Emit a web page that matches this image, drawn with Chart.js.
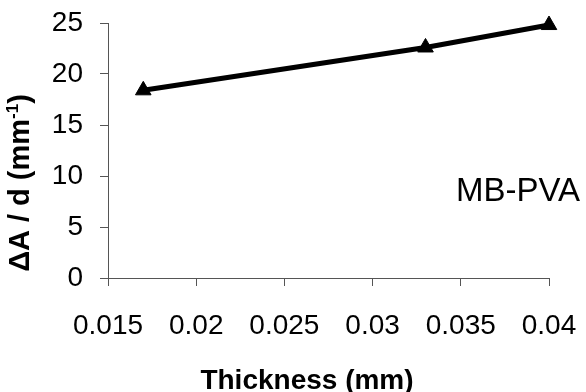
<!DOCTYPE html>
<html>
<head>
<meta charset="utf-8">
<script src="https://cdn.jsdelivr.net/npm/chart.js@4.4.0/dist/chart.umd.min.js"></script>
<style>
  html, body { margin: 0; padding: 0; background: #fff; }
  #wrap { width: 586px; height: 392px; }
</style>
</head>
<body>
<div id="wrap"><canvas id="c" width="586" height="392"></canvas></div>
<script>
// thickness (mm) vs absorbance change per unit thickness
const thickness = [0.017, 0.033, 0.04];
const dAperD = [18.4, 22.6, 24.8];
const xTicks = [0.015, 0.02, 0.025, 0.03, 0.035, 0.04];
const yTicks = [0, 5, 10, 15, 20, 25];
const sampleName = 'MB-PVA';
const xTitle = 'Thickness (mm)';

const FONT = '"Liberation Sans", Arial, Helvetica, sans-serif';
const AXIS = '#555';

// axis titles (with the superscript) and the sample label
const labelsPlugin = {
  id: 'labels',
  afterDraw(chart) {
    const ctx = chart.ctx;
    ctx.save();
    ctx.fillStyle = '#000';

    // x title
    ctx.font = 'bold 28px ' + FONT;
    ctx.textAlign = 'center';
    ctx.textBaseline = 'alphabetic';
    ctx.fillText(xTitle, 307, 389);

    // y title, rotated, "ΔA / d (mm" + superscript "-1" + ")"
    const main = 'ΔA / d (mm', sup = '-1', tail = ')';
    ctx.font = 'bold 29px ' + FONT;
    const wMain = ctx.measureText(main).width;
    const wTail = ctx.measureText(tail).width;
    ctx.font = 'bold 17px ' + FONT;
    const wSup = ctx.measureText(sup).width;
    const total = wMain + wSup + wTail;
    ctx.translate(29, 183);
    ctx.rotate(-Math.PI / 2);
    ctx.textAlign = 'left';
    let x = -total / 2;
    ctx.font = 'bold 29px ' + FONT;
    ctx.fillText(main, x, 0);
    x += wMain;
    ctx.font = 'bold 17px ' + FONT;
    ctx.fillText(sup, x, -11);
    x += wSup;
    ctx.font = 'bold 29px ' + FONT;
    ctx.fillText(tail, x, 0);
    ctx.restore();

    ctx.save();
    ctx.font = '33px ' + FONT;
    ctx.fillStyle = '#000';
    ctx.textAlign = 'right';
    ctx.textBaseline = 'alphabetic';
    ctx.fillText(sampleName, 580, 201);
    ctx.restore();
  }
};

new Chart(document.getElementById('c'), {
  type: 'line',
  data: {
    datasets: [{
      data: thickness.map((t, i) => ({ x: t, y: dAperD[i] })),
      borderColor: '#000',
      backgroundColor: '#000',
      borderWidth: 5,
      tension: 0,
      clip: false,
      pointStyle: 'triangle',
      pointRadius: 9,
      pointBorderWidth: 1,
      pointBackgroundColor: '#000',
      pointBorderColor: '#000'
    }]
  },
  options: {
    responsive: false,
    animation: false,
    layout: { padding: { top: 23, right: 37, left: 0, bottom: 0 } },
    plugins: { legend: { display: false }, tooltip: { enabled: false } },
    scales: {
      x: {
        type: 'linear',
        min: xTicks[0],
        max: xTicks[xTicks.length - 1],
        afterBuildTicks: s => { s.ticks = xTicks.map(v => ({ value: v })); },
        afterFit: s => { s.height = 114; s.paddingLeft = 0; s.paddingRight = 0; },
        ticks: {
          color: '#000',
          font: { family: FONT, size: 28 },
          padding: 23,
          maxRotation: 0,
          autoSkip: false,
          callback: v => String(v)
        },
        grid: { drawOnChartArea: false, drawTicks: true, tickLength: 8, color: AXIS },
        border: { color: AXIS, width: 1 }
      },
      y: {
        min: yTicks[0],
        max: yTicks[yTicks.length - 1],
        afterBuildTicks: s => { s.ticks = yTicks.map(v => ({ value: v })); },
        afterFit: s => { s.width = 108; s.paddingTop = 0; s.paddingBottom = 0; },
        ticks: {
          color: '#000',
          font: { family: FONT, size: 28 },
          padding: 17,
          callback: v => String(v)
        },
        grid: { drawOnChartArea: false, drawTicks: true, tickLength: 8, color: AXIS },
        border: { color: AXIS, width: 1 }
      }
    }
  },
  plugins: [labelsPlugin]
});
</script>
</body>
</html>
